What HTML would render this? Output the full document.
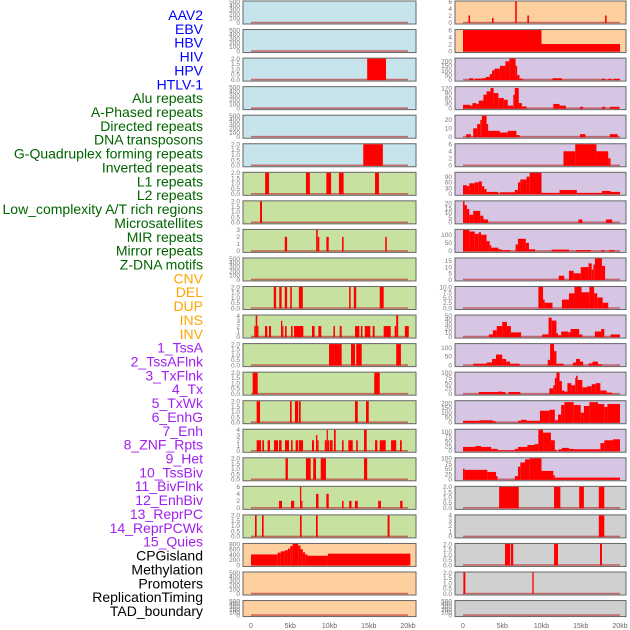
<!DOCTYPE html>
<html><head><meta charset="utf-8"><style>
body{margin:0;background:#fff;}
svg{display:block;font-family:"Liberation Sans",sans-serif;}
</style></head><body>
<svg id="chart" width="630" height="630" viewBox="0 0 630 630" xmlns="http://www.w3.org/2000/svg"></svg>
<script>
const trackLabels=["AAV2","EBV","HBV","HIV","HPV","HTLV-1","Alu repeats","A-Phased repeats","Directed repeats","DNA transposons","G-Quadruplex forming repeats","Inverted repeats","L1 repeats","L2 repeats","Low_complexity A/T rich regions","Microsatellites","MIR repeats","Mirror repeats","Z-DNA motifs","CNV","DEL","DUP","INS","INV","1_TssA","2_TssAFlnk","3_TxFlnk","4_Tx","5_TxWk","6_EnhG","7_Enh","8_ZNF_Rpts","9_Het","10_TssBiv","11_BivFlnk","12_EnhBiv","13_ReprPC","14_ReprPCWk","15_Quies","CPGisland","Methylation","Promoters","ReplicationTiming","TAD_boundary"];
const labelGroupSizes=[6,13,5,15,5];
const labelGroupColors=["#0000ff","#006400","#ffa500","#a020f0","#000000"];
const xTickLabels=["0","5kb","10kb","15kb","20kb"];
const xTickValues=[0,5,10,15,20];
const T5=["0","100","200","300","400","500"],T2=["0.0","0.5","1.0","1.5","2.0"];
const leftTicks=[T5,T5,T2,T5,T5,T2,T2,T2,["0","1","2","3"],T5,T2,["0","1","2","3","4"],T2,T2,T2,["0","1","2","3","4"],T2,["0","2","4","6"],T2,["0","200","400","600","800"],T5,T5];
const rightTicks=[["0","2","4","6"],["0","2","4","6"],["0","50","100","150","200"],["0","30","60","90","120"],["0","10","20"],["0","2","4","6"],["0","30","60","90"],["0","5","10","15","20"],["0","50","100"],["0","5","10","15"],["0.0","2.5","5.0","7.5","10.0"],["0","10","20","30","40","50"],["0","50","100"],["0","25","50","75","100"],["0","50","100","150","200"],["0","25","50","75","100"],["0","25","50","75","100"],T2,["0","1","2","3","4"],T2,T2,T5];
const leftMax=[500,500,2,500,500,2,2,2,3,500,2,4,2,2,2,4,2,6,2,800,500,500];
const rightMax=[6,6,230,125,25,6,110,22,130,17,10,50,120,100,220,110,100,2,4,2,2,500];
const leftBg=["#c7e4ec","#c7e4ec","#c7e4ec","#c7e4ec","#c7e4ec","#c7e4ec","#c7e1a1","#c7e1a1","#c7e1a1","#c7e1a1","#c7e1a1","#c7e1a1","#c7e1a1","#c7e1a1","#c7e1a1","#c7e1a1","#c7e1a1","#c7e1a1","#c7e1a1","#ffd09f","#ffd09f","#ffd09f"];
const rightBg=["#ffd09f","#ffd09f","#d6c6e3","#d6c6e3","#d6c6e3","#d6c6e3","#d6c6e3","#d6c6e3","#d6c6e3","#d6c6e3","#d6c6e3","#d6c6e3","#d6c6e3","#d6c6e3","#d6c6e3","#d6c6e3","#d6c6e3","#d0d0d0","#d0d0d0","#d0d0d0","#d0d0d0","#d0d0d0"];
const leftSegments=[
[],[],[[14.8,17.2,2]],[],[],[[14.3,16.8,2]],
[[1.8,2.3,2],[7.0,7.5,2],[9.6,10.2,2],[11.2,11.8,2],[15.8,16.3,2]],
[[1.15,1.4,2]],
[[4.3,4.6,2],[8.3,8.5,3],[8.5,8.7,2],[9.6,9.9,2],[11.6,11.8,2],[17.1,17.3,2]],
[],
[[2.9,3.2,2],[3.6,3.9,2],[4.3,4.6,2],[5.0,5.2,2],[6.1,6.6,2],[12.5,12.7,2],[13.1,13.4,2],[16.4,16.9,2]],
[[0.42,0.6,2],[0.6,0.8,4],[0.8,0.93,2],[1.78,2.08,2],[2.29,2.55,2],[3.82,3.98,3],[3.98,4.12,2],[4.33,4.54,2],[5.1,5.3,2],[5.48,6.67,2],[7.77,8.1,2],[8.58,8.96,2],[10.5,10.7,2],[11.3,11.55,2],[13.25,13.8,2],[14.0,14.2,2],[14.5,15.2,2],[15.5,15.75,2],[16.9,17.8,2],[18.3,18.5,2],[18.5,18.75,4],[19.6,20.1,2]],
[[9.94,11.55,2],[12.74,13.25,2],[13.4,14.1,2],[18.5,19.1,2]],
[[0.21,0.85,2],[15.7,16.4,2]],
[[0.72,1.15,2],[4.97,5.18,2],[5.6,6.0,2],[6.1,6.33,2],[13.25,13.6,2],[14.65,15.0,2]],
[[0.72,1.27,2],[1.44,1.66,2],[2.12,2.42,2],[2.93,3.44,2],[3.57,3.9,2],[4.33,4.84,2],[5.1,5.3,2],[5.69,6.0,2],[6.1,6.63,2],[7.77,8.03,2],[8.28,8.45,3],[8.45,8.6,2],[9.4,9.64,2],[9.64,9.8,4],[9.8,9.97,2],[10.06,10.4,2],[10.57,10.79,4],[11.6,11.8,2],[12.4,12.96,2],[13.4,13.6,2],[14.4,14.74,4],[15.8,16.1,2],[16.4,17.16,2],[17.84,18.5,2],[18.98,19.2,2]],
[[4.4,4.7,2],[7.0,7.6,2],[7.93,8.28,2],[8.88,9.55,2],[14.4,14.8,2]],
[[3.57,3.95,2],[5.1,5.5,2],[6.24,6.4,6],[6.4,6.5,2],[8.28,8.6,4],[9.6,9.9,4],[11.6,11.8,2],[12.5,12.8,2],[13.25,13.6,2],[16.2,16.55,2],[19.0,19.3,2]],
[[0.51,0.72,2],[1.4,1.61,2],[6.24,6.45,2],[8.28,8.5,2],[17.4,17.65,2]],
[[0,3.4,400],[3.4,3.8,470],[3.8,4.3,520],[4.3,4.7,560],[4.7,5.0,620],[5.0,5.3,720],[5.3,6.0,800],[6.0,6.3,740],[6.3,6.6,600],[6.6,6.9,480],[6.9,7.2,400],[7.2,9.8,350],[9.8,20.3,430]],
[],[]];
const rightSegments=[
[[0.7,0.9,2],[3.7,3.9,1.3],[6.65,6.85,6],[8.2,8.4,2],[18.1,18.3,2]],
[[0,10,6],[10,20,2]],
[[0.8,1.3,15],[1.5,2.4,10],[2.4,2.9,15],[2.9,3.4,30],[3.4,3.7,60],[3.7,4.0,100],[4.0,4.7,120],[4.7,5.4,150],[5.4,5.9,200],[5.9,6.7,230],[6.7,6.9,150],[6.9,7.2,50],[7.2,7.6,10],[11.4,12.6,15],[17.7,18.1,8],[18.5,18.9,8],[19.2,20,8]],
[[0,0.9,20],[0.9,1.2,15],[1.2,1.7,30],[1.7,2.0,25],[2.0,2.6,45],[2.6,3.0,80],[3.0,3.5,100],[3.5,3.9,120],[3.9,4.5,90],[4.5,5.2,60],[5.2,5.7,50],[5.7,6.4,15],[6.4,6.6,80],[6.6,7.1,120],[7.1,7.5,30],[7.5,8.1,10],[11.5,12.3,25],[12.3,13.1,15],[14.9,15.3,8],[17.7,18.1,8],[18.7,19.9,8]],
[[0.4,1.0,3],[1.3,1.8,10],[1.8,2.2,15],[2.2,2.4,20],[2.4,3.0,25],[3.0,3.2,15],[3.2,4.7,7],[4.7,5.7,5],[5.7,6.8,7],[6.8,7.2,2],[14.9,15.6,3],[18.7,19.7,3]],
[[12.8,14.3,4],[14.3,17.0,6],[17.0,18.5,4],[18.5,18.8,2]],
[[0,0.5,45],[0.5,0.8,40],[0.8,1.5,55],[1.5,2.0,60],[2.0,2.4,65],[2.4,2.7,40],[2.7,3.0,25],[3.0,4.5,10],[4.7,6.6,8],[6.6,7.0,20],[7.0,7.3,60],[7.3,8.1,75],[8.1,8.5,90],[8.5,10.0,110],[10.0,12.3,5],[12.3,14.5,20],[14.5,17.7,5],[17.7,18.8,15],[18.8,20,10]],
[[0,0.2,22],[0.2,0.5,18],[0.5,0.8,14],[0.8,1.3,8],[1.3,2.2,12],[2.2,2.6,7],[2.6,3.2,3],[14.7,15.2,3],[18.2,19.0,3]],
[[0,0.8,130],[0.8,1.5,120],[1.5,2.0,105],[2.0,2.3,115],[2.3,3.0,100],[3.0,3.4,60],[3.4,3.6,35],[3.6,4.5,20],[4.5,4.9,10],[4.9,6.0,5],[6.7,7.0,40],[7.0,8.0,75],[8.0,8.4,50],[8.4,9.2,10],[11.3,13.5,8],[14.4,16.3,5],[17.6,18.0,5],[18.6,19.3,5]],
[[12.2,12.9,3],[13.5,14.1,7],[14.1,15.0,5],[15.0,16.0,10],[16.0,16.4,13],[16.4,16.6,8],[16.6,16.8,12],[16.8,17.7,17],[17.7,18.1,11]],
[[9.6,10.2,10],[10.2,10.4,4],[10.4,11.4,2.5],[12.6,13.5,4],[13.5,14.2,7],[14.2,15.1,10],[15.1,16.1,7.5],[16.1,16.7,10],[16.7,17.1,7],[17.1,17.8,5],[17.8,18.5,2.5]],
[[3.3,3.8,5],[3.8,4.3,15],[4.3,5.0,25],[5.0,5.6,35],[5.6,6.1,25],[6.1,7.4,10],[10.1,10.9,5],[10.9,11.3,45],[11.3,11.9,38],[11.9,12.1,8],[12.1,12.5,3],[12.5,13.4,12],[13.4,13.7,10],[13.7,14.8,18],[14.8,15.2,5],[16.8,17.6,12],[17.6,18.0,18],[18.8,20,5]],
[[1.3,2.0,8],[2.0,3.0,8],[3.0,3.7,15],[3.7,4.2,35],[4.2,5.0,60],[5.0,5.5,35],[5.5,6.0,20],[6.0,7.2,8],[10.8,11.1,30],[11.1,11.6,120],[11.6,11.9,80],[11.9,12.8,8],[14.0,14.4,15],[14.4,14.9,35],[14.9,15.3,20],[16.0,16.5,10],[16.5,17.2,20],[17.2,17.7,5]],
[[2.0,4.5,8],[4.5,4.9,10],[4.9,5.4,8],[5.8,7.3,8],[11.0,11.5,25],[11.5,11.7,40],[11.7,11.9,75],[11.9,12.3,100],[12.3,12.6,60],[12.6,12.9,15],[12.9,13.3,10],[13.3,13.8,50],[13.8,14.3,40],[14.3,14.4,75],[14.4,14.6,85],[14.6,15.2,65],[15.2,15.8,30],[15.8,16.4,35],[16.4,16.9,45],[16.9,17.5,50],[17.5,18.3,15],[18.3,19.0,5]],
[[0,2.1,15],[2.1,3.8,20],[3.8,4.2,10],[7.0,7.4,15],[7.4,8.1,25],[8.1,9.8,15],[9.8,11.0,120],[11.0,11.7,130],[11.7,12.1,20],[12.1,12.5,80],[12.5,12.9,180],[12.9,14.1,210],[14.1,15.0,180],[15.0,15.4,100],[15.4,16.1,170],[16.1,17.2,210],[17.2,18.0,190],[18.0,18.4,160],[18.4,20,190]],
[[0,1.6,20],[1.6,2.3,25],[2.3,3.6,20],[3.6,4.4,10],[4.4,6.6,2],[6.6,7.0,10],[7.0,8.2,20],[8.2,9.1,30],[9.1,9.6,35],[9.6,10.2,110],[10.2,11.2,95],[11.2,11.7,55],[11.7,11.9,5],[12.2,12.6,8],[12.6,13.5,15],[13.5,14.1,10],[14.1,17.5,8],[17.5,18.0,40],[18.0,19.1,55],[19.1,20,60]],
[[0,0.2,50],[0.2,3.1,45],[3.1,4.2,35],[4.2,4.4,15],[6.6,7.0,15],[7.0,7.3,60],[7.3,7.9,80],[7.9,8.5,95],[8.5,10.0,100],[10.0,11.5,40],[11.5,11.7,20],[11.7,20,8]],
[[4.6,7.1,2],[11.6,12.4,2],[14.8,15.4,2],[17.3,18.0,2]],
[[17.3,18.0,4]],
[[5.35,6.0,2],[6.1,6.4,2],[11.6,12.1,2],[17.45,17.7,2]],
[[0.05,0.3,2],[8.83,9.0,2]],
[]];

const NS="http://www.w3.org/2000/svg";
const svg=document.getElementById('chart');
function mk(tag,attrs,parent){const e=document.createElementNS(NS,tag);for(const k in attrs)e.setAttribute(k,attrs[k]);(parent||svg).appendChild(e);return e;}

let li=0;
labelGroupSizes.forEach((n,g)=>{for(let j=0;j<n;j++){const t=mk('text',{x:203,y:15+li*13.86+5,'text-anchor':'end','font-size':14,fill:labelGroupColors[g]});t.textContent=trackLabels[li];


li++;}});

const cols=[{bx:243,bw:173,x0:251,x1:408,ty:240,segs:leftSegments,max:leftMax,bg:leftBg,ticks:leftTicks,name:'left'},
            {bx:455,bw:171,x0:463,x1:620,ty:452,segs:rightSegments,max:rightMax,bg:rightBg,ticks:rightTicks,name:'right'}];
cols.forEach(c=>{
  const xs=v=>c.x0+(c.x1-c.x0)*v/20;
  for(let i=0;i<22;i++){
    const top=1+i*28.55, h=(i===21)?16:23;
    const g=mk('g',{});
    
    
    mk('rect',{x:c.bx,y:top,width:c.bw,height:h,fill:c.bg[i],stroke:'#666','stroke-width':1},g);
    const bot=top+h-1.5, ptop=top+0.5;
    const ys=v=>bot-(bot-ptop)*v/c.max[i];
    mk('line',{x1:xs(0),x2:xs(20),y1:bot,y2:bot,stroke:'rgba(190,60,60,0.7)','stroke-width':1.6},g);
    c.segs[i].forEach(s=>{
      const r=mk('rect',{x:xs(s[0]),y:ys(s[2]),width:Math.max(1.2,xs(s[1])-xs(s[0])),height:bot-ys(s[2])+0.5,fill:'#ff0000'},g);
      
      
    });
    const tk=c.ticks[i];
    tk.forEach(lbl=>{
      const v=parseFloat(lbl);
      const t=mk('text',{x:c.ty,y:ys(v)+2.3,'text-anchor':'end','font-size':6.5,fill:'#777'},g);
      t.textContent=lbl;
      
      
    });
  }
  xTickValues.forEach((v,k)=>{
    const t=mk('text',{x:xs(v),y:628,'text-anchor':'middle','font-size':7,fill:'#666'});
    t.textContent=xTickLabels[k];
    
    
  });
});
</script>
</body></html>
